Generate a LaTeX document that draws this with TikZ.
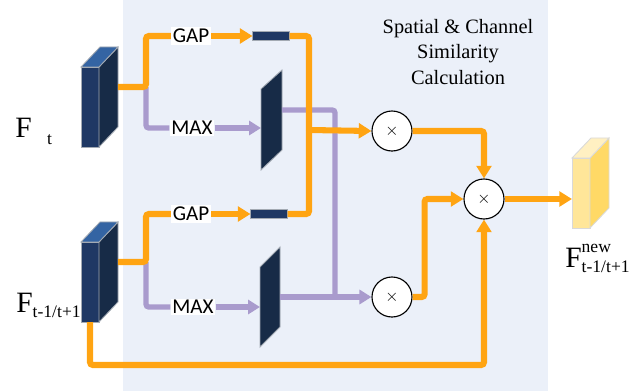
\documentclass[tikz,border=0pt]{standalone}
\usepackage{fontspec}
\setmainfont{Liberation Serif}
\newfontfamily\opfont{Carlito}
\usetikzlibrary{arrows.meta,calc}
\definecolor{panelbg}{HTML}{EBF0F9}
\definecolor{flowor}{HTML}{FFA412}
\definecolor{poolpu}{HTML}{A99BCD}
\definecolor{cubefront}{HTML}{1F3864}
\definecolor{cubeside}{HTML}{172B47}
\definecolor{cubetop}{HTML}{3464A3}
\definecolor{cubeedge}{HTML}{A3AAB3}
\definecolor{newfront}{HTML}{FFE699}
\definecolor{newside}{HTML}{FFD966}
\definecolor{newtop}{HTML}{FFF0C2}
\definecolor{newedge}{HTML}{D9D9D9}
\newcommand\subsize{\fontsize{12.5}{13}\selectfont}

\begin{document}
\begin{tikzpicture}[
  x=0.025cm, y=-0.025cm,
  face/.style={draw=cubeedge, line width=0.6pt, minimum width=0.45cm, inner sep=0pt, outer sep=0pt},
  vecbox/.style={face, fill=cubefront, minimum width=0.925cm, minimum height=0.225cm},
  op/.style={fill=white, font=\opfont\fontsize{15}{17}\selectfont, inner sep=1.2pt},
  mul/.style={circle, draw, fill=white, line width=0.8pt, minimum size=1cm, inner sep=0pt, font=\large},
  flabel/.style={font=\fontsize{21}{22}\selectfont, inner sep=0pt},
  title/.style={font=\fontsize{14.5}{18}\selectfont, align=center},
  flow/.style={line width=4.3pt, draw=flowor, rounded corners=2pt},
  pool/.style={line width=3.8pt, draw=poolpu, rounded corners=2pt},
  otip/.style={-{Triangle[length=9pt,width=10.5pt]}},
  ptip/.style={-{Triangle[length=8.5pt,width=10pt]}},
]
\useasboundingbox (0,0) rectangle (641,391);

% ── Panel ──
\fill[panelbg] (123,0) rectangle (548,391);
\node[title] (calc) at (458,52) {Spatial \& Channel\\Similarity\\Calculation};

% ── Input features ──
\node[face, fill=cubefront, minimum height=2cm] (ft) at (90,107) {};
\filldraw[fill=cubeside, draw=cubeedge, line width=0.6pt] (ft.north east) -- ++(19,-20) -- ++(0,80) -- (ft.south east) -- cycle;
\filldraw[fill=cubetop, draw=cubeedge, line width=0.6pt] (ft.north west) -- ++(19,-20) -- ++(18,0) -- (ft.north east) -- cycle;
\node[flabel, anchor=base west] (ftlbl) at (15,137) {F\hspace{11pt}\raisebox{-5pt}{\subsize t}};

\node[face, fill=cubefront, minimum height=2cm] (fb) at (90,282) {};
\filldraw[fill=cubeside, draw=cubeedge, line width=0.6pt] (fb.north east) -- ++(19,-20) -- ++(0,80) -- (fb.south east) -- cycle;
\filldraw[fill=cubetop, draw=cubeedge, line width=0.6pt] (fb.north west) -- ++(19,-20) -- ++(18,0) -- (fb.north east) -- cycle;
\node[flabel, anchor=base west] (fblbl) at (16,312) {F\raisebox{-4pt}{\subsize t-1/t+1}};

\coordinate (ftout) at ($(ft.east)+(19,-20)$);
\coordinate (fbout) at ($(fb.east)+(19,-20)$);
\coordinate (fork1) at (146,87);
\coordinate (fork2) at (146,262);

% ── Pooling ──
\node[op] (gap1) at (191,36) {GAP};
\node[op] (max1) at (192,128) {MAX};
\node[op] (gap2) at (191,214) {GAP};
\node[op] (max2) at (193,307) {MAX};

\node[vecbox] (gr1) at (271,36) {};
\node[vecbox] (gr2) at (269,214) {};

\filldraw[fill=cubeside, draw=cubeedge, line width=0.6pt] (261,89) -- (282,70) -- (282,150) -- (261,170) -- cycle;
\filldraw[fill=cubeside, draw=cubeedge, line width=0.6pt] (260,267) -- (280,247) -- (280,327) -- (260,347) -- cycle;
\coordinate (sm1in) at (261,128);
\coordinate (sm1out) at (282,110);
\coordinate (sm2in) at (260,307);
\coordinate (sm2out) at (280,297);

% ── Multiplications ──
\node[mul] (m1) at (392,131) {$\times$};
\node[mul] (m2) at (392,297) {$\times$};
\node[mul] (mb) at (484,199) {$\times$};
\coordinate (join1) at (309,130);
\coordinate (join2) at (335,297);

% ── Output feature ──
\node[face, draw=newedge, fill=newfront, minimum height=1.75cm] (fn) at (581,193) {};
\filldraw[fill=newside, draw=newedge, line width=0.6pt] (fn.north east) -- ++(19,-20) -- ++(0,70) -- (fn.south east) -- cycle;
\filldraw[fill=newtop, draw=newedge, line width=0.6pt] (fn.north west) -- ++(19,-20) -- ++(18,0) -- (fn.north east) -- cycle;
\node[flabel, anchor=base west] (fnlbl) at (565,267) {F\rlap{\raisebox{10pt}{\subsize new}}\raisebox{-4pt}{\subsize t-1/t+1}};

% purple paths
\draw[pool] (fork1) |- (max1.west);
\draw[pool, ptip] (max1.east) -- (sm1in);
\draw[pool] (fork2) |- (max2.west);
\draw[pool, ptip] (max2.east) -- (sm2in);
\draw[pool] (sm1out) -| (join2);
\draw[pool, ptip] (sm2out) -- (m2.west);

% orange paths
\draw[flow] (ftout) -- (fork1) |- (gap1.west);
\draw[flow, otip] (gap1.east) -- (gr1.west);
\draw[flow] (fbout) -- (fork2) |- (gap2.west);
\draw[flow, otip] (gap2.east) -- (gr2.west);
\draw[flow] (gr1.east) -| (join1);
\draw[flow] (gr2.east) -| (join1);
\draw[flow, otip] (join1) -- (m1.west);
\draw[flow, otip] (m1.east) -| (mb.north);
\draw[flow, otip] (m2.east) -- ++(12,0) |- (mb.west);
\draw[flow, otip] (fb.south) -- ++(0,43) -| (mb.south);
\draw[flow, otip] (mb.east) -- (mb.east -| fn.west);

\end{tikzpicture}
\end{document}
